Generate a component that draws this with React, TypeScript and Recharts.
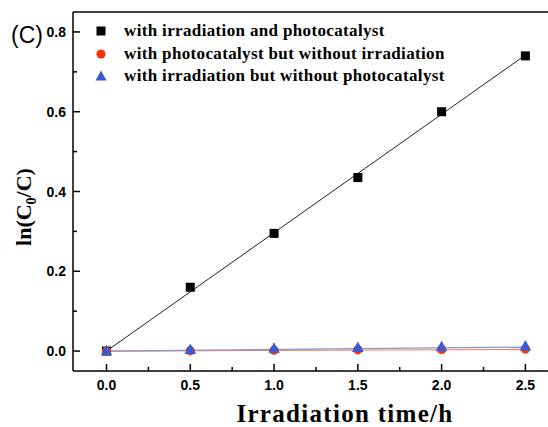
import {
  ComposedChart,
  Line,
  Scatter,
  XAxis,
  YAxis,
  Legend,
  ReferenceLine,
} from "recharts";

const times = [0, 0.5, 1.0, 1.5, 2.0, 2.5];
const withBoth = [0.0, 0.16, 0.295, 0.435, 0.6, 0.74];
const catalystOnly = [0.0, 0.001, 0.002, 0.003, 0.004, 0.005];
const irradiationOnly = [0.0, 0.003, 0.006, 0.008, 0.01, 0.012];

// fitted straight lines (end points)
const fitTimes = [0, 2.5];
const fitBoth = [0.0, 0.742];
const fitCatalyst = [0.0, 0.004];
const fitIrradiation = [0.0, 0.01];

const xTicks = [0, 0.25, 0.5, 0.75, 1.0, 1.25, 1.5, 1.75, 2.0, 2.25, 2.5];
const yTicks = [0, 0.1, 0.2, 0.3, 0.4, 0.5, 0.6, 0.7, 0.8];

const seriesNames = [
  "with irradiation and photocatalyst",
  "with photocatalyst but without irradiation",
  "with irradiation but without photocatalyst",
];

const BLACK = "#000000";
const RED = "#f8310f";
const BLUE = "#3b5bd3";

const toPoints = (xs: number[], ys: number[]) =>
  xs.map((x, i) => ({ x, y: ys[i] }));

const tickFont = "'Liberation Sans', Arial, sans-serif";
const serif = "'Liberation Serif', 'Times New Roman', serif";

function XTick({ x, y, payload }: any) {
  const v = payload.value;
  const major = Math.round(v * 100) % 50 === 0;
  return (
    <g>
      <line x1={x} x2={x} y1={y} y2={y - (major ? 7 : 4)} stroke={BLACK} strokeWidth={1.5} />
      {major && (
        <text x={x} y={y + 19} textAnchor="middle" fontFamily={tickFont} fontWeight="bold" fontSize={14} fill={BLACK}>
          {v.toFixed(1)}
        </text>
      )}
    </g>
  );
}

function YTick({ x, y, payload }: any) {
  const v = payload.value;
  const major = Math.round(v * 10) % 2 === 0;
  return (
    <g>
      <line x1={x} x2={x + (major ? 7 : 4)} y1={y} y2={y} stroke={BLACK} strokeWidth={1.5} />
      {major && (
        <text x={x - 7} y={y + 5} textAnchor="end" fontFamily={tickFont} fontWeight="bold" fontSize={14} fill={BLACK}>
          {v.toFixed(1)}
        </text>
      )}
    </g>
  );
}

const Square = ({ cx, cy }: any) => (
  <rect x={cx - 4.5} y={cy - 4.5} width={9} height={9} fill={BLACK} />
);
const Dot = ({ cx, cy }: any) => <circle cx={cx} cy={cy} r={4.6} fill={RED} />;
const Tri = ({ cx, cy }: any) => (
  <path d={`M${cx},${cy - 6.3} L${cx + 5.8},${cy + 4.2} L${cx - 5.8},${cy + 4.2} Z`} fill={BLUE} />
);

function LegendIcon({ kind }: { kind: number }) {
  return (
    <svg width={14} height={14} style={{ marginRight: 16 }}>
      {kind === 0 && <rect x={2.5} y={2.5} width={9} height={9} fill={BLACK} />}
      {kind === 1 && <circle cx={7} cy={7} r={4.6} fill={RED} />}
      {kind === 2 && <path d="M7,1.5 L12.6,11.5 L1.4,11.5 Z" fill={BLUE} />}
    </svg>
  );
}

function LegendBox() {
  return (
    <div style={{ fontFamily: serif, fontWeight: "bold", fontSize: 17, letterSpacing: 0.35, color: BLACK }}>
      {seriesNames.map((name, i) => (
        <div key={name} style={{ display: "flex", alignItems: "center", height: 22.5 }}>
          <LegendIcon kind={i} />
          <span>{name}</span>
        </div>
      ))}
    </div>
  );
}

export default function App() {
  return (
    <div style={{ position: "absolute", left: 0, top: 0, width: 548, height: 427, background: "#fff" }}>
      <ComposedChart width={548} height={427} margin={{ top: 12, right: 0, bottom: 0, left: 0 }}>
        <XAxis
          type="number"
          dataKey="x"
          domain={[-0.2, 2.635]}
          ticks={xTicks}
          height={56}
          tickSize={0}
          tickMargin={0}
          tickLine={false}
          tick={XTick}
          axisLine={{ stroke: BLACK, strokeWidth: 1.5 }}
          allowDataOverflow
        />
        <YAxis
          type="number"
          dataKey="y"
          domain={[-0.05, 0.85]}
          ticks={yTicks}
          width={73}
          tickSize={0}
          tickMargin={0}
          tickLine={false}
          tick={YTick}
          axisLine={{ stroke: BLACK, strokeWidth: 1.5 }}
          allowDataOverflow
        />
        <ReferenceLine y={0.85} stroke={BLACK} strokeWidth={1.5} ifOverflow="extendDomain" />
        <Line data={toPoints(fitTimes, fitCatalyst)} dataKey="y" stroke="#f57a5e" strokeWidth={1.2} dot={false} legendType="none" isAnimationActive={false} />
        <Line data={toPoints(fitTimes, fitIrradiation)} dataKey="y" stroke="#8798cf" strokeWidth={1.2} dot={false} legendType="none" isAnimationActive={false} />
        <Line data={toPoints(fitTimes, fitBoth)} dataKey="y" stroke="#222" strokeWidth={1} dot={false} legendType="none" isAnimationActive={false} />
        <Scatter name={seriesNames[0]} data={toPoints(times, withBoth)} shape={Square} isAnimationActive={false} />
        <Scatter name={seriesNames[1]} data={toPoints(times, catalystOnly)} shape={Dot} isAnimationActive={false} />
        <Scatter name={seriesNames[2]} data={toPoints(times, irradiationOnly)} shape={Tri} isAnimationActive={false} />
        <Legend
          layout="vertical"
          align="center"
          verticalAlign="middle"
          content={() => <LegendBox />}
          wrapperStyle={{ position: "absolute", left: 94, top: 20, width: 440, height: "auto" }}
        />
        <text
          transform="translate(31,207) rotate(-90)"
          textAnchor="middle"
          fontFamily={serif}
          fontWeight="bold"
          fontSize={22}
          fill={BLACK}
        >
          ln(C<tspan dy={5} fontSize={14}>0</tspan>
          <tspan dy={-5}>/C)</tspan>
        </text>
        <text x={345} y={422} textAnchor="middle" fontFamily={serif} fontWeight="bold" fontSize={25} letterSpacing={1.3} fill={BLACK}>
          Irradiation time/h
        </text>
        <text x={27} y={43} textAnchor="middle" fontFamily={tickFont} fontSize={23} fill={BLACK}>
          (C)
        </text>
      </ComposedChart>
    </div>
  );
}
